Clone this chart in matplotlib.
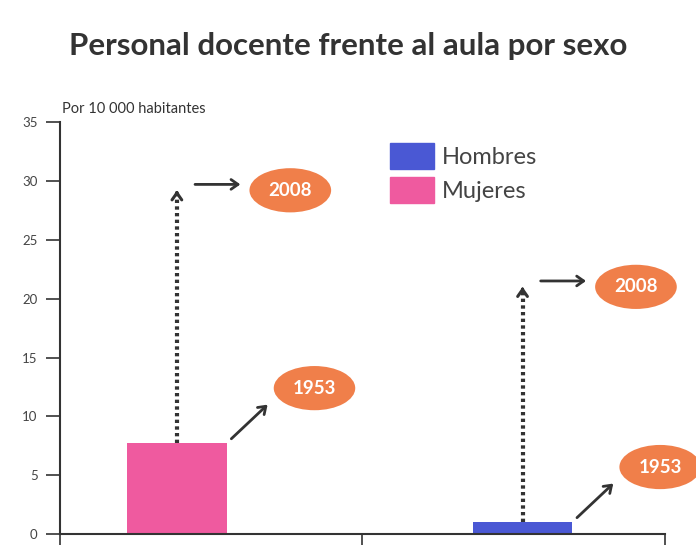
import matplotlib.pyplot as plt
from matplotlib.patches import Patch

# datos (por 10 000 habitantes)
sexos = ['Mujeres', 'Hombres']
val_1953 = [7.7, 1.0]
val_2008 = [29.2, 21.0]
colores = ['#ef5a9f', '#4a58d4']
posx = [0.387, 1.53]
anio1 = '1953'
anio2 = '2008'

plt.rcParams['font.family'] = ['Lato', 'DejaVu Sans']

fig = plt.figure(figsize=(6.96, 5.57), dpi=100)
ax = fig.add_axes([0.086, 0.041, 0.869, 0.74])

ax.bar(posx, val_1953, width=0.33, color=colores, zorder=2)

naranja = '#f07f4a'
gris = '#333333'
for i in range(len(sexos)):
    x = posx[i]
    # linea punteada de 1953 a 2008
    ax.plot([x, x], [val_1953[i], val_2008[i] - 0.2], color=gris, lw=3,
            linestyle=(0, (0.8, 0.8)), dash_capstyle='butt', zorder=3)
    ax.annotate('', xy=(x, val_2008[i]), xytext=(x, val_2008[i] - 0.3),
                arrowprops=dict(arrowstyle='->,head_width=0.35,head_length=0.5',
                                lw=2.2, color=gris, shrinkA=0, shrinkB=0))
    # flecha hacia 2008
    ax.annotate('', xy=(x + 0.21, val_2008[i] + 0.5), xytext=(x + 0.06, val_2008[i] + 0.5),
                arrowprops=dict(arrowstyle='->,head_width=0.35,head_length=0.5',
                                lw=2, color=gris, shrinkA=0, shrinkB=0))
    ax.text(x + 0.375, val_2008[i], anio2, ha='center', va='center', color='white',
            fontsize=13.5, fontweight='bold', clip_on=False,
            bbox=dict(boxstyle='ellipse,pad=0.38', fc=naranja, ec='none'))
    # flecha hacia 1953
    ax.annotate('', xy=(x + 0.3, val_1953[i] + 3.3), xytext=(x + 0.18, val_1953[i] + 0.4),
                arrowprops=dict(arrowstyle='->,head_width=0.35,head_length=0.5',
                                lw=2, color=gris, shrinkA=0, shrinkB=0))
    ax.text(x + 0.455, val_1953[i] + 4.7, anio1, ha='center', va='center', color='white',
            fontsize=13.5, fontweight='bold', clip_on=False,
            bbox=dict(boxstyle='ellipse,pad=0.38', fc=naranja, ec='none'))

ax.set_xlim(0, 2)
ax.set_ylim(0, 35)
ax.set_yticks(range(0, 36, 5))
ax.set_xticks([0, 1, 2])
ax.set_xticklabels([])
ax.tick_params(axis='y', labelsize=9.5, labelcolor='#444444', length=10, width=1.2, color=gris, pad=6)
ax.tick_params(axis='x', length=8, width=1.2, color=gris)
ax.spines['top'].set_visible(False)
ax.spines['right'].set_visible(False)
ax.spines['left'].set_linewidth(1.5)
ax.spines['bottom'].set_linewidth(1.5)
ax.spines['left'].set_color(gris)
ax.spines['bottom'].set_color(gris)

ax.text(0.003, 1.015, 'Por 10 000 habitantes', transform=ax.transAxes, fontsize=10.5,
        color='#333333', va='bottom', ha='left')

handles = [Patch(color=colores[1], label='Hombres'), Patch(color=colores[0], label='Mujeres')]
ax.legend(handles=handles, loc='upper left', bbox_to_anchor=(0.51, 1.0), frameon=False,
          fontsize=17, handlelength=1.9, handleheight=1.3, labelspacing=0.35,
          labelcolor='#444444', handletextpad=0.3)

fig.text(0.5, 0.918, 'Personal docente frente al aula por sexo', ha='center', va='center',
         fontsize=22.5, fontweight='bold', color='#333333')

fig.savefig('out.png', dpi=100)
